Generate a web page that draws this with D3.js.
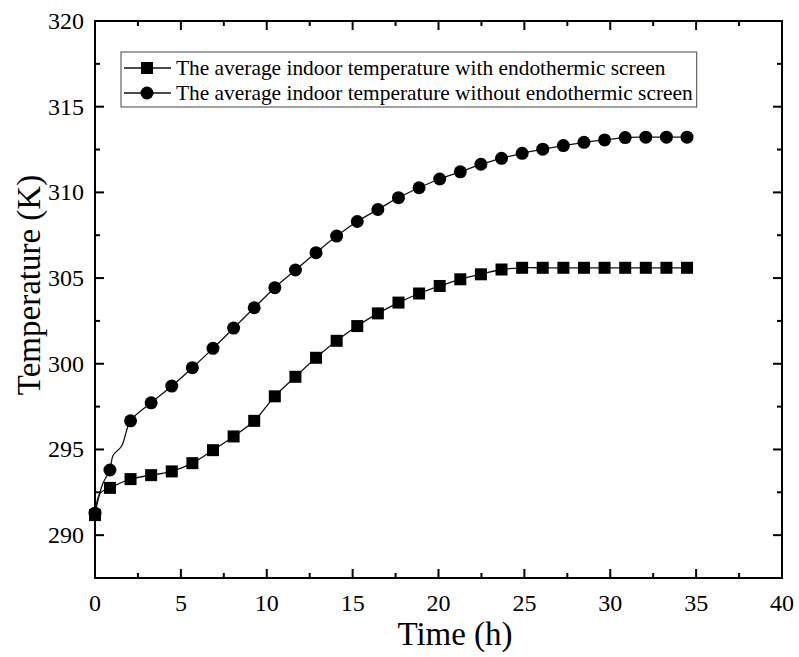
<!DOCTYPE html>
<html>
<head>
<meta charset="utf-8">
<script src="https://cdn.jsdelivr.net/npm/d3@7"></script>
<style>
  html, body { margin: 0; padding: 0; background: #fff; }
  svg { display: block; font-family: "Liberation Serif", "Times New Roman", serif; }
</style>
</head>
<body>
<svg id="chart" width="799" height="657"></svg>
<script>
// ---- Data ----
const timeH = [0, 0.87, 2.07, 3.27, 4.47, 5.67, 6.87, 8.07, 9.27, 10.47, 11.67, 12.87, 14.07, 15.27,
  16.47, 17.67, 18.87, 20.07, 21.27, 22.47, 23.67, 24.87, 26.07, 27.27, 28.47, 29.67, 30.87, 32.07, 33.27, 34.47];
const withScreen = [291.17, 292.76, 293.27, 293.5, 293.72, 294.2, 294.96, 295.76, 296.67, 298.1, 299.24, 300.35, 301.34, 302.2,
  302.94, 303.57, 304.1, 304.54, 304.93, 305.22, 305.5, 305.6, 305.6, 305.6, 305.6, 305.6, 305.6, 305.6, 305.6, 305.6];
const withoutScreen = [291.28, 293.8, 296.67, 297.72, 298.7, 299.77, 300.9, 302.08, 303.27, 304.44, 305.47, 306.48, 307.45, 308.3,
  309.0, 309.69, 310.27, 310.78, 311.2, 311.64, 311.99, 312.28, 312.52, 312.73, 312.92, 313.06, 313.2, 313.22, 313.22, 313.22];
// extra line-only points (curve shape between first markers)
const withLineExtra = [[0.3, 292.45]];
const withoutLineExtra = [[0.45, 293.0], [1.05, 294.65], [1.55, 295.2]];

const seriesNames = [
  "The average indoor temperature with endothermic screen",
  "The average indoor temperature without endothermic screen"
];
const xTicks = [0, 5, 10, 15, 20, 25, 30, 35, 40];
const yTicks = [290, 295, 300, 305, 310, 315, 320];
const xMinor = [2.5, 7.5, 12.5, 17.5, 22.5, 27.5, 32.5, 37.5];
const yMinor = [292.5, 297.5, 302.5, 307.5, 312.5, 317.5];
const xLabel = "Time (h)";
const yLabel = "Temperature (K)";

// ---- Layout ----
const svg = d3.select("#chart");
const L = 95, R = 782, T = 21, B = 578;
const x = d3.scaleLinear().domain([0, 40]).range([L, R]);
const y = d3.scaleLinear().domain([287.5, 320]).range([B, T]);

const majorLen = 9, minorLen = 5;
const axisW = 2;

// ---- Lines ----
const line = d3.line().x(d => x(d[0])).y(d => y(d[1])).curve(d3.curveCatmullRom.alpha(0.5));
function merge(xs, ys, extra) {
  const pts = xs.map((t, i) => [t, ys[i]]).concat(extra);
  pts.sort((a, b) => a[0] - b[0]);
  return pts;
}
const ptsWith = merge(timeH, withScreen, withLineExtra);
const ptsWithout = merge(timeH, withoutScreen, withoutLineExtra);

svg.append("path").attr("d", line(ptsWithout)).attr("fill", "none").attr("stroke", "#111").attr("stroke-width", 1.3);
svg.append("path").attr("d", line(ptsWith)).attr("fill", "none").attr("stroke", "#111").attr("stroke-width", 1.3);

const sq = 12, cr = 6.5;
svg.append("g").selectAll("rect").data(timeH).join("rect")
  .attr("x", (d) => x(d) - sq / 2)
  .attr("y", (d, i) => y(withScreen[i]) - sq / 2)
  .attr("width", sq).attr("height", sq).attr("fill", "#000");
svg.append("g").selectAll("circle").data(timeH).join("circle")
  .attr("cx", (d) => x(d))
  .attr("cy", (d, i) => y(withoutScreen[i]))
  .attr("r", cr).attr("fill", "#000");

// ---- Axes / frame ----
const axisG = svg.append("g").attr("stroke", "#000").attr("stroke-width", axisW);
xTicks.forEach(t => {
  axisG.append("line").attr("x1", x(t)).attr("x2", x(t)).attr("y1", B).attr("y2", B - majorLen);
  axisG.append("line").attr("x1", x(t)).attr("x2", x(t)).attr("y1", T).attr("y2", T + majorLen);
});
xMinor.forEach(t => {
  axisG.append("line").attr("x1", x(t)).attr("x2", x(t)).attr("y1", B).attr("y2", B - minorLen);
  axisG.append("line").attr("x1", x(t)).attr("x2", x(t)).attr("y1", T).attr("y2", T + minorLen);
});
yTicks.forEach(t => {
  axisG.append("line").attr("x1", L).attr("x2", L + majorLen).attr("y1", y(t)).attr("y2", y(t));
  axisG.append("line").attr("x1", R).attr("x2", R - majorLen).attr("y1", y(t)).attr("y2", y(t));
});
yMinor.forEach(t => {
  axisG.append("line").attr("x1", L).attr("x2", L + minorLen).attr("y1", y(t)).attr("y2", y(t));
  axisG.append("line").attr("x1", R).attr("x2", R - minorLen).attr("y1", y(t)).attr("y2", y(t));
});
svg.append("rect").attr("x", L).attr("y", T).attr("width", R - L).attr("height", B - T)
  .attr("fill", "none").attr("stroke", "#000").attr("stroke-width", axisW);

// tick labels
svg.append("g").selectAll("text").data(xTicks).join("text")
  .attr("x", d => x(d)).attr("y", B + 33)
  .attr("text-anchor", "middle").attr("font-size", 24).attr("fill", "#000")
  .text(d => d);
svg.append("g").selectAll("text").data(yTicks).join("text")
  .attr("x", L - 11).attr("y", d => y(d) + 8)
  .attr("text-anchor", "end").attr("font-size", 24).attr("fill", "#000")
  .text(d => d);

// axis titles
svg.append("text").attr("x", 455).attr("y", 645)
  .attr("text-anchor", "middle").attr("font-size", 33).attr("fill", "#000").text(xLabel);
svg.append("text").attr("transform", `translate(40,285) rotate(-90)`)
  .attr("text-anchor", "middle").attr("font-size", 33).attr("fill", "#000").text(yLabel);

// ---- Legend ----
const lg = svg.append("g");
const lgX = 121, lgY = 52, rowH = 25;
const texts = [];
seriesNames.forEach((name, i) => {
  const cy = lgY + 16 + i * rowH;
  lg.append("line").attr("x1", lgX + 3).attr("x2", lgX + 50).attr("y1", cy).attr("y2", cy)
    .attr("stroke", "#111").attr("stroke-width", 1.3);
  if (i === 0) {
    lg.append("rect").attr("x", lgX + 26 - 6).attr("y", cy - 6).attr("width", 12).attr("height", 12).attr("fill", "#000");
  } else {
    lg.append("circle").attr("cx", lgX + 26).attr("cy", cy).attr("r", 6.5).attr("fill", "#000");
  }
  const t = lg.append("text").attr("x", lgX + 55).attr("y", cy + 7)
    .attr("font-size", 21.4).attr("fill", "#000").text(name);
  texts.push(t);
});
const maxW = d3.max(texts, t => t.node().getComputedTextLength());
lg.insert("rect", ":first-child").attr("x", lgX).attr("y", lgY)
  .attr("width", 55 + maxW + 4).attr("height", 55)
  .attr("fill", "#fff").attr("stroke", "#444").attr("stroke-width", 1);
</script>
</body>
</html>
